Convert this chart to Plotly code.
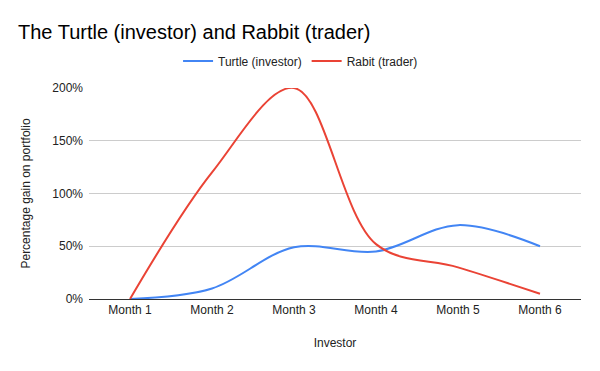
import plotly.graph_objects as go

months = ["Month 1", "Month 2", "Month 3", "Month 4", "Month 5", "Month 6"]
turtle = [0, 10, 49, 45, 70, 50]
rabbit = [0, 120, 200, 52, 30, 5]
y_ticks = [0, 50, 100, 150, 200]
y_tick_labels = ["0%", "50%", "100%", "150%", "200%"]

font = "Liberation Sans, Arial, sans-serif"

# page body has an 8px margin, so the figure is 8px smaller and offsets are compensated
W, H = 592, 363

fig = go.Figure()
fig.add_trace(go.Scatter(x=months, y=turtle, name="Turtle (investor)", mode="lines",
                         line=dict(color="#4285F4", width=2, shape="spline", smoothing=1.0)))
fig.add_trace(go.Scatter(x=months, y=rabbit, name="Rabit (trader)", mode="lines",
                         line=dict(color="#EA4335", width=2, shape="spline", smoothing=1.0)))

fig.update_layout(
    width=W, height=H,
    margin=dict(l=81, r=19, t=80, b=72),
    paper_bgcolor="white", plot_bgcolor="white",
    font=dict(family=font, size=12, color="#222"),
    title=dict(text="The Turtle (investor) and Rabbit (trader)", x=10/W, xref="container",
               xanchor="left", y=1-24/H, yref="container", yanchor="middle",
               font=dict(family=font, size=20, color="#000")),
    legend=dict(orientation="h", x=0.43, xanchor="center", y=1.128, yanchor="middle",
                font=dict(family=font, size=12, color="#222"), itemwidth=30),
    xaxis=dict(type="category", range=[-0.5, 5.5], showgrid=False, showline=True,
               linecolor="#333", linewidth=1, ticks="", tickfont=dict(size=12, color="#222"),
               title=dict(text="Investor", font=dict(size=12, color="#222"), standoff=22)),
    yaxis=dict(range=[0, 200], tickvals=y_ticks, ticktext=y_tick_labels, showgrid=True,
               gridcolor="#cccccc", zeroline=True, zerolinecolor="#333", zerolinewidth=1,
               ticks="", tickfont=dict(size=12, color="#222"), ticklabelstandoff=5,
               title=dict(text="Percentage gain on portfolio", font=dict(size=12, color="#222"), standoff=19)),
)
fig.write_html("out.html")
